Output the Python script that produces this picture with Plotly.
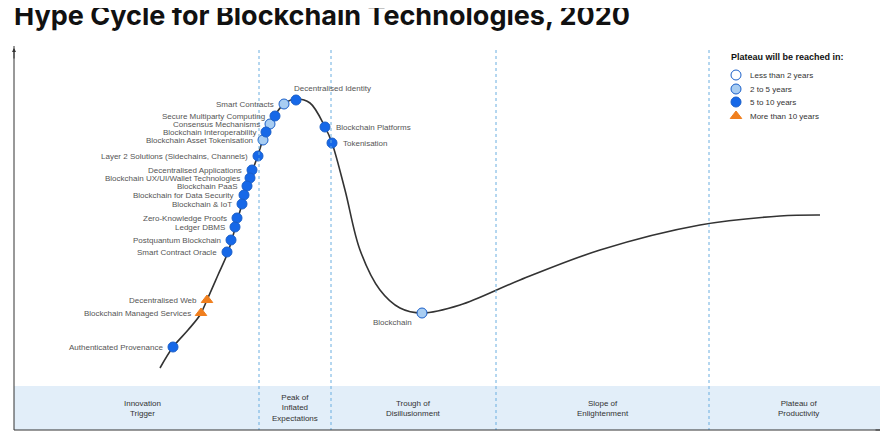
import plotly.graph_objects as go

curve_x = [160,173,188,200,207,218,228,238,250,258,266,275,285,296,310,325,332,345,360,380,400,422,460,520,600,700,780,820]
curve_y = [368,347,330,315,300,275,252,218,178,155,131,115,103,99,103,127,143,190,250,290,308,313,305,280,250,225,216,215]

names = ["Decentralised Identity","Smart Contracts","Secure Multiparty Computing","Consensus Mechanisms",
         "Blockchain Interoperability","Blockchain Asset Tokenisation","Layer 2 Solutions (Sidechains, Channels)",
         "Decentralised Applications","Blockchain UX/UI/Wallet Technologies","Blockchain PaaS",
         "Blockchain for Data Security","Blockchain & IoT","Zero-Knowledge Proofs","Ledger DBMS",
         "Postquantum Blockchain","Smart Contract Oracle","Decentralised Web","Blockchain Managed Services",
         "Authenticated Provenance","Blockchain Platforms","Tokenisation","Blockchain"]
px = [296,284,275,270,266,263,258,252,250,247,244,242,237,235,231,227,207,201,173,325,332,422]
py = [100,104,116,124,132,140,156,170,178,186,195,204,218,227,240,252,300,313,347,127,143,313]
cat = ["5-10","2-5","5-10","2-5","5-10","2-5","5-10","5-10","5-10","5-10","5-10","5-10","5-10","5-10",
       "5-10","5-10",">10",">10","5-10","5-10","5-10","2-5"]
side = ["top","left","left","left","left","left","left","left","left","left","left","left","left","left",
        "left","left","left","left","left","right","right","below"]

phases = ["Innovation<br>Trigger","Peak of<br>Inflated<br>Expectations","Trough of<br>Disillusionment",
          "Slope of<br>Enlightenment","Plateau of<br>Productivity"]
phase_x = [142,295,413,603,798]
dividers = [259,331,496,709]

legend_labels = ["Less than 2 years","2 to 5 years","5 to 10 years","More than 10 years"]
legend_keys = ["<2","2-5","5-10",">10"]

style = {"<2": dict(color="white", symbol="circle"),
         "2-5": dict(color="#a8cdf2", symbol="circle"),
         "5-10": dict(color="#1668e8", symbol="circle"),
         ">10": dict(color="#f07f1e", symbol="triangle-up")}

fig = go.Figure()
fig.add_trace(go.Scatter(x=curve_x, y=curve_y, mode="lines", line=dict(color="#333", width=1.6, shape="spline"),
                         hoverinfo="skip"))
for k in style:
    xs = [px[i] for i in range(len(px)) if cat[i] == k]
    ys = [py[i] for i in range(len(py)) if cat[i] == k]
    if xs:
        fig.add_trace(go.Scatter(x=xs, y=ys, mode="markers",
                                 marker=dict(size=10, color=style[k]["color"], symbol=style[k]["symbol"],
                                             line=dict(color="#1a5fc9" if k != ">10" else style[k]["color"], width=1))))
font_lbl = dict(family="Liberation Sans", size=8, color="#555")
for i, n in enumerate(names):
    if side[i] == "left":
        fig.add_annotation(x=px[i]-8, y=py[i], text=n, showarrow=False, xanchor="right", font=font_lbl)
    elif side[i] == "right":
        fig.add_annotation(x=px[i]+9, y=py[i], text=n, showarrow=False, xanchor="left", font=font_lbl)
    elif side[i] == "top":
        fig.add_annotation(x=px[i]-4, y=py[i]-12, text=n, showarrow=False, xanchor="left", font=font_lbl)
    else:
        fig.add_annotation(x=px[i]-30, y=py[i]+9, text=n, showarrow=False, xanchor="center", font=font_lbl)

shapes = [dict(type="rect", x0=14, x1=888, y0=386, y1=430, fillcolor="#e2eef9", line=dict(width=0), layer="below")]
for d in dividers:
    shapes.append(dict(type="line", x0=d, x1=d, y0=50, y1=430, line=dict(color="#6aaee0", width=1, dash="dot")))
shapes.append(dict(type="line", x0=14, x1=14, y0=430, y1=46, line=dict(color="#333", width=1)))
shapes.append(dict(type="line", x0=14, x1=884, y0=430, y1=430, line=dict(color="#333", width=1)))
fig.update_layout(shapes=shapes)
fig.add_annotation(x=14, y=48, ax=14, ay=60, axref="x", ayref="y", showarrow=True, arrowhead=2, arrowsize=0.8,
                   arrowwidth=1, arrowcolor="#333", text="")
fig.add_annotation(x=886, y=430, ax=874, ay=430, axref="x", ayref="y", showarrow=True, arrowhead=2, arrowsize=0.8,
                   arrowwidth=1, arrowcolor="#333", text="")

for t, x in zip(phases, phase_x):
    fig.add_annotation(x=x, y=408, text=t, showarrow=False, font=dict(family="Liberation Sans", size=8, color="#333"))

fig.add_annotation(x=5, y=240, text="Expectations", textangle=-90, showarrow=False,
                   font=dict(family="Liberation Sans", size=9, color="#222"))
fig.add_annotation(x=12, y=15, text="<b>Hype Cycle for Blockchain Technologies, 2020</b>", showarrow=False,
                   xanchor="left", font=dict(family="Inter", size=27, color="#111"))

fig.add_annotation(x=729, y=57, text="<b>Plateau will be reached in:</b>", showarrow=False, xanchor="left",
                   font=dict(family="Liberation Sans", size=9, color="#111"))
ly = [75, 89, 102, 116]
fig.add_trace(go.Scatter(x=[736]*4, y=ly, mode="markers",
                         marker=dict(size=10, color=[style[k]["color"] for k in legend_keys],
                                     symbol=[style[k]["symbol"] for k in legend_keys],
                                     line=dict(color=["#1a5fc9"]*3+["#f07f1e"], width=1))))
for t, y in zip(legend_labels, ly):
    fig.add_annotation(x=748, y=y, text=t, showarrow=False, xanchor="left",
                       font=dict(family="Liberation Sans", size=8, color="#333"))

fig.update_layout(width=888, height=440, margin=dict(l=0, r=0, t=0, b=0), showlegend=False,
                  plot_bgcolor="white", paper_bgcolor="white",
                  xaxis=dict(range=[8, 896], visible=False, fixedrange=True),
                  yaxis=dict(range=[448, 8], visible=False, fixedrange=True))
fig.write_html("out.html")
